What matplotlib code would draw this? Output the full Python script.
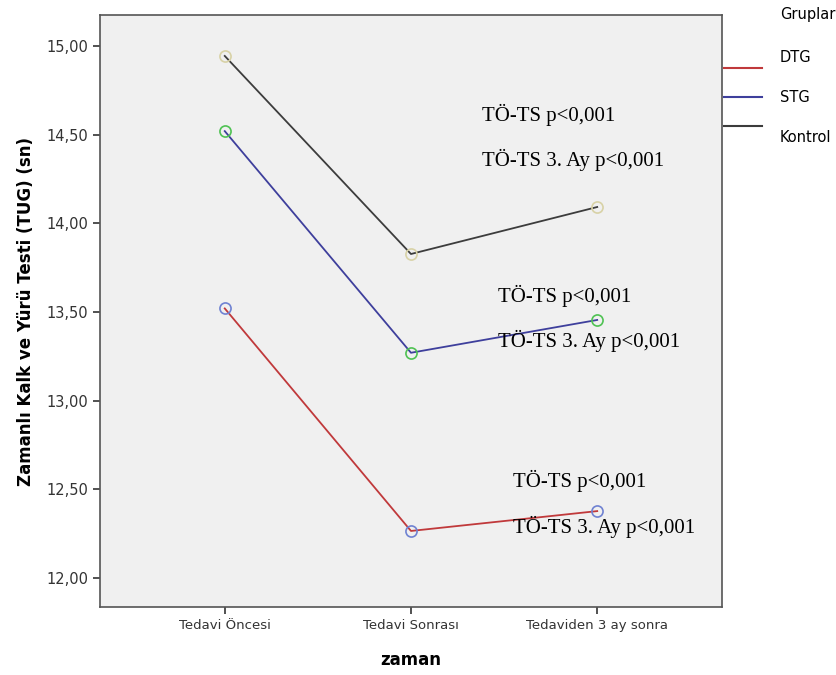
import matplotlib.pyplot as plt
from matplotlib.lines import Line2D

# Veriler
zaman = ['Tedavi Öncesi', 'Tedavi Sonrası', 'Tedaviden 3 ay sonra']
DTG = [13.52, 12.265, 12.377]
STG = [14.52, 13.27, 13.455]
Kontrol = [14.944, 13.827, 14.092]
gruplar = ['DTG', 'STG', 'Kontrol']
yticks = [12.0, 12.5, 13.0, 13.5, 14.0, 14.5, 15.0]
notlar = [('TÖ-TS p<0,001', 'TÖ-TS 3. Ay p<0,001', 1.38, 14.61),
          ('TÖ-TS p<0,001', 'TÖ-TS 3. Ay p<0,001', 1.465, 13.59),
          ('TÖ-TS p<0,001', 'TÖ-TS 3. Ay p<0,001', 1.55, 12.545)]

line_colors = ['#c0393b', '#3e3f9c', '#3c3c3c']
marker_colors = ['#6f82d2', '#4fc253', '#d8d2a6']

fig = plt.figure(figsize=(8.36, 6.75), dpi=100)
ax = fig.add_axes([0.1196, 0.1007, 0.7440, 0.8771])
ax.set_facecolor('#f0f0f0')

x = range(len(zaman))
for vals, lc, mc in zip([DTG, STG, Kontrol], line_colors, marker_colors):
    ax.plot(x, vals, color=lc, lw=1.3, zorder=2)
    ax.plot(x, vals, ls='none', marker='o', ms=8, mfc='none', mec=mc, mew=1.2, zorder=3)

ax.set_xlim(-0.67, 2.67)
ax.set_ylim(11.836, 15.175)
ax.set_xticks(list(x))
ax.set_xticklabels(zaman, fontsize=9.5, color='#333333')
ax.set_yticks(yticks)
ax.set_yticklabels([f'{v:.2f}'.replace('.', ',') for v in yticks], fontsize=10.5, color='#333333')
ax.tick_params(direction='out', length=5, width=1.2, color='#333333')
for s in ax.spines.values():
    s.set_color('#555555')
    s.set_linewidth(1.2)

ax.set_xlabel('zaman', fontsize=12, fontweight='bold', labelpad=14)
ax.set_ylabel('Zamanlı Kalk ve Yürü Testi (TUG) (sn)', fontsize=12, fontweight='bold', labelpad=8)

for t1, t2, xp, yp in notlar:
    ax.text(xp, yp, t1, family='Liberation Serif', fontsize=15, va='center')
    ax.text(xp, yp - 0.255, t2, family='Liberation Serif', fontsize=15, va='center')

# Lejant (grafik dışında)
fig.text(780 / 836, 1 - 14 / 675, 'Gruplar', fontsize=10.5, va='center')
leg_y_text = [57, 97, 137]
leg_y_line = [68, 97, 126]
for g, lc, yt, yl in zip(gruplar, line_colors, leg_y_text, leg_y_line):
    fig.text(780 / 836, 1 - yt / 675, g, fontsize=10.5, va='center')
    fig.add_artist(Line2D([724 / 836, 762 / 836], [1 - yl / 675, 1 - yl / 675], color=lc, lw=1.5))

fig.savefig('out.png', dpi=100)
